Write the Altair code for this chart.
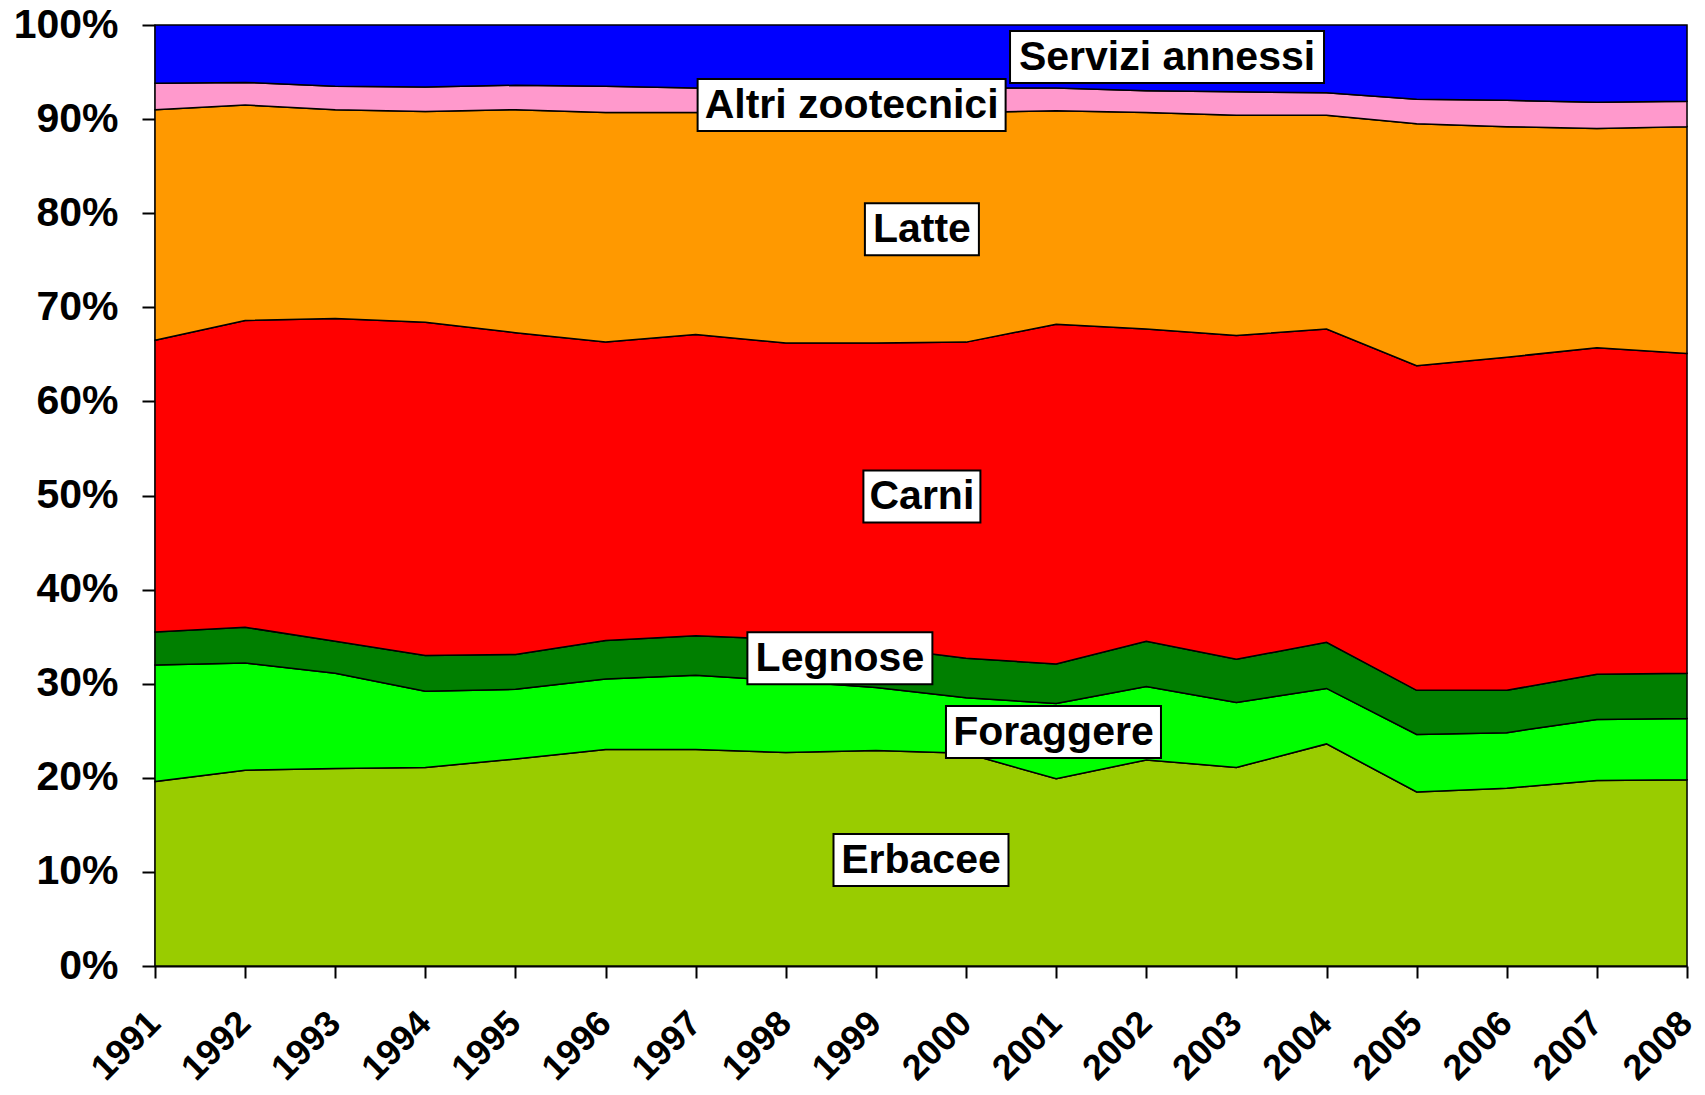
import altair as alt
import pandas as pd

years = list(range(1991, 2009))
categories = ["Erbacee", "Foraggere", "Legnose", "Carni", "Latte",
              "Altri zootecnici", "Servizi annessi"]
colors = ["#99CC00", "#00FF00", "#007F00", "#FF0000", "#FF9900", "#FF99CC", "#0000FF"]

# shares (%)
erbacee   = [19.6, 20.8, 21.0, 21.1, 22.0, 23.0, 23.0, 22.7, 22.9, 22.6, 19.9, 21.9, 21.1, 23.6, 18.5, 18.9, 19.7, 19.8]
foraggere = [12.4, 11.4, 10.1, 8.1, 7.4, 7.5, 7.9, 7.6, 6.7, 5.9, 8.0, 7.8, 6.9, 5.9, 6.1, 5.9, 6.5, 6.5]
legnose   = [3.5, 3.8, 3.4, 3.8, 3.7, 4.1, 4.2, 4.4, 4.3, 4.2, 4.2, 4.8, 4.6, 4.9, 4.7, 4.5, 4.8, 4.8]
carni     = [31.0, 32.6, 34.3, 35.4, 34.2, 31.7, 32.0, 31.5, 32.3, 33.6, 36.1, 33.2, 34.4, 33.3, 34.5, 35.4, 34.7, 34.0]
latte     = [24.5, 22.9, 22.2, 22.4, 23.7, 24.4, 23.6, 24.4, 24.4, 24.4, 22.7, 23.0, 23.4, 22.7, 25.7, 24.5, 23.3, 24.1]
altri     = [2.8, 2.4, 2.5, 2.6, 2.6, 2.8, 2.6, 2.7, 2.7, 2.6, 2.4, 2.3, 2.5, 2.4, 2.6, 2.8, 2.8, 2.7]
servizi   = [6.2, 6.1, 6.5, 6.6, 6.4, 6.5, 6.7, 6.7, 6.7, 6.7, 6.7, 7.0, 7.1, 7.2, 7.9, 8.0, 8.2, 8.1]
series = [erbacee, foraggere, legnose, carni, latte, altri, servizi]

# in-chart labels: text, centre year, centre share (fraction), box width (px)
label_text = ["Servizi annessi", "Altri zootecnici", "Latte", "Carni", "Legnose", "Foraggere", "Erbacee"]
label_x    = [2002.23, 1998.73, 1999.51, 1999.51, 1998.60, 2000.97, 1999.50]
label_y    = [0.966, 0.915, 0.783, 0.499, 0.327, 0.2486, 0.1127]
label_w    = [314, 308, 114, 117, 185, 215, 175]
BOX_H = 52

W, H = 1532, 941
px_per_year = W / (years[-1] - years[0])

rows = []
for i, (cat, vals) in enumerate(zip(categories, series)):
    for yr, v in zip(years, vals):
        rows.append({"anno": yr, "categoria": cat, "valore": v, "ordine": i})
df = pd.DataFrame(rows)

lab = pd.DataFrame({"label": label_text, "cx": label_x, "cy": label_y, "w": label_w})
lab["x1"] = lab["cx"] - lab["w"] / 2 / px_per_year
lab["x2"] = lab["cx"] + lab["w"] / 2 / px_per_year
lab["y1"] = lab["cy"] - BOX_H / 2 / H
lab["y2"] = lab["cy"] + BOX_H / 2 / H

FONT = "Liberation Sans"
FS = 41
x_scale = alt.Scale(domain=[1991, 2008], nice=False, zero=False)
y_scale = alt.Scale(domain=[0, 1], nice=False)

x_axis = alt.Axis(values=years, format="d", labelAngle=-45, labelAlign="right",
                  labelBaseline="alphabetic", labelFont=FONT, labelFontSize=36,
                  labelFontWeight="bold", labelColor="black", labelPadding=47,
                  labelOffset=7,
                  tickSize=12, tickColor="black", tickWidth=2, domainColor="black",
                  domainWidth=2, grid=False, labelOverlap=False, labelFlush=False,
                  title=None)
y_axis = alt.Axis(values=[i / 10 for i in range(11)], format=".0%", labelFont=FONT,
                  labelFontSize=FS, labelFontWeight="bold", labelColor="black",
                  labelPadding=24, tickSize=13, tickColor="black", tickWidth=2,
                  domainColor="black", domainWidth=2, grid=False, title=None)

areas = alt.Chart(df).mark_area(stroke="black", strokeWidth=1.5, opacity=1).encode(
    x=alt.X("anno:Q", scale=x_scale, title=None, axis=x_axis),
    y=alt.Y("valore:Q", stack="normalize", scale=y_scale, title=None, axis=y_axis),
    color=alt.Color("categoria:N", scale=alt.Scale(domain=categories, range=colors), legend=None),
    order=alt.Order("ordine:Q"),
)

boxes = alt.Chart(lab).mark_rect(fill="white", stroke="black", strokeWidth=2).encode(
    x=alt.X("x1:Q", title=None), x2="x2:Q",
    y=alt.Y("y1:Q", title=None), y2="y2:Q",
)

texts = alt.Chart(lab).mark_text(font=FONT, fontSize=FS, fontWeight="bold", color="black",
                                 align="center", baseline="middle", dy=1).encode(
    x=alt.X("cx:Q", title=None),
    y=alt.Y("cy:Q", title=None),
    text="label:N",
)

chart = alt.layer(areas, boxes, texts).properties(
    width=W, height=H,
    autosize=alt.AutoSizeParams(type="none"),
    padding={"left": 147, "top": 17, "right": 10, "bottom": 121},
).configure_view(stroke=None).configure(background="white")

chart.save("out.html", embed_options={"renderer": "svg", "actions": False})
